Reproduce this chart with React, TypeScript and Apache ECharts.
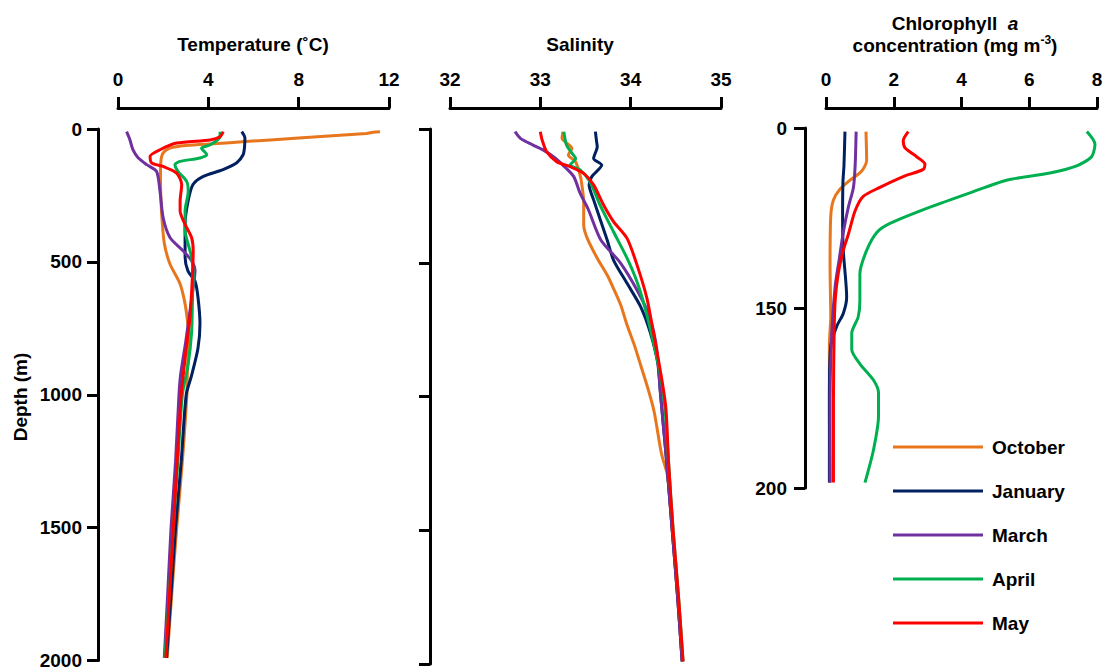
import React, { useEffect, useRef } from "react";
import * as echarts from "echarts";

const FONT = "'Liberation Sans', Arial, sans-serif";

const months = ["October", "January", "March", "April", "May"];
const monthColors = ["#E8761C", "#002060", "#7030A0", "#00B050", "#FF0000"];

// [temperature (°C), depth (m)]
const tempOctober = [[11.6,10],[11.3,12],[11.0,17],[8.0,34],[5.5,48],[4.4,55],[3.0,62],[2.3,72],[2.0,90],[1.9,120],[1.88,180],[1.9,260],[1.95,340],[2.05,430],[2.3,508],[2.75,583],[2.97,658],[3.1,740],[3.15,800],[3.08,890],[3.05,1000],[2.85,1250],[2.6,1500],[2.38,1750],[2.18,1990]];
const tempJanuary = [[5.48,10],[5.62,34],[5.6,70],[5.54,97],[5.26,127],[4.65,153],[3.76,179],[3.32,209],[3.1,273],[2.97,359],[2.97,482],[3.1,535],[3.41,572],[3.54,632],[3.63,733],[3.54,826],[3.25,930],[3.02,1000],[2.8,1250],[2.55,1500],[2.35,1750],[2.15,1990]];
const tempMarch = [[0.38,10],[0.53,41],[0.66,78],[0.89,108],[1.27,134],[1.71,160],[1.86,234],[2.0,334],[2.3,408],[2.89,459],[3.26,496],[3.41,533],[3.33,596],[3.19,683],[3.0,800],[2.78,920],[2.7,1000],[2.55,1250],[2.35,1500],[2.2,1750],[2.05,1990]];
const tempApril = [[4.52,10],[4.49,34],[4.07,60],[3.7,72],[3.93,97],[3.63,109],[2.75,122],[2.52,134],[2.66,160],[3.04,197],[3.11,234],[2.97,309],[2.97,384],[3.11,434],[3.26,483],[3.33,546],[3.3,632],[3.26,764],[3.1,889],[2.85,1000],[2.65,1250],[2.45,1500],[2.27,1750],[2.08,1990]];
const tempMay = [[4.66,10],[4.52,29],[4.07,41],[2.6,53],[1.86,78],[1.42,103],[1.49,128],[2.0,141],[2.6,166],[2.82,209],[2.75,272],[2.75,309],[2.97,359],[3.26,409],[3.33,459],[3.3,546],[3.23,658],[3.16,733],[3.11,764],[2.97,864],[2.8,1000],[2.62,1250],[2.45,1500],[2.28,1750],[2.12,1990]];

// [salinity, depth (m)]
const salOctober = [[33.25,10],[33.24,35],[33.35,72],[33.31,97],[33.39,122],[33.44,172],[33.46,209],[33.48,272],[33.48,359],[33.52,409],[33.63,483],[33.74,546],[33.81,596],[33.89,658],[33.96,733],[34.04,807],[34.11,882],[34.19,969],[34.26,1057],[34.34,1212],[34.41,1300],[34.46,1500],[34.52,1750],[34.57,1990]];
const salJanuary = [[33.61,10],[33.62,40],[33.63,66],[33.59,110],[33.68,135],[33.57,178],[33.54,209],[33.59,265],[33.74,415],[33.81,490],[33.96,577],[34.11,664],[34.22,764],[34.3,876],[34.33,988],[34.36,1100],[34.4,1250],[34.46,1500],[34.52,1750],[34.57,1990]];
const salMarch = [[32.72,10],[32.78,35],[32.92,60],[33.03,78],[33.17,110],[33.25,135],[33.37,178],[33.44,240],[33.53,300],[33.67,415],[33.89,502],[34.07,602],[34.21,702],[34.29,826],[34.33,988],[34.36,1100],[34.4,1250],[34.46,1500],[34.52,1750],[34.57,1990]];
const salApril = [[33.26,10],[33.29,60],[33.35,90],[33.39,110],[33.33,135],[33.44,153],[33.55,197],[33.66,284],[33.81,384],[33.96,483],[34.07,571],[34.16,670],[34.25,795],[34.33,920],[34.38,1044],[34.42,1250],[34.47,1500],[34.53,1750],[34.58,1990]];
const salMay = [[33.0,10],[33.02,41],[33.07,85],[33.18,122],[33.33,141],[33.48,166],[33.59,209],[33.7,284],[33.81,346],[33.96,409],[34.07,508],[34.18,633],[34.25,758],[34.33,907],[34.39,1044],[34.42,1250],[34.47,1500],[34.53,1750],[34.58,1990]];

// [chlorophyll a (mg m-3), depth (m)]
const chlOctober = [[1.18,2],[1.2,18],[1.05,24],[0.71,29],[0.41,34],[0.22,40],[0.14,49],[0.12,77],[0.14,105],[0.1,120],[0.1,160],[0.12,197]];
const chlJanuary = [[0.56,2],[0.53,21],[0.5,30],[0.49,49],[0.51,68],[0.61,94],[0.51,103],[0.32,110],[0.14,121],[0.1,151],[0.1,197]];
const chlMarch = [[0.89,2],[0.86,21],[0.81,33],[0.66,44],[0.51,58],[0.39,73],[0.27,88],[0.17,114],[0.12,151],[0.12,197]];
const chlApril = [[7.7,2],[7.94,9],[7.84,16],[7.4,21],[6.61,25],[5.33,29],[4.25,36],[3.07,44],[1.89,53],[1.5,58],[1.2,68],[1.0,81],[1.0,96],[0.95,105],[0.76,114],[0.76,123],[1.0,131],[1.4,140],[1.55,147],[1.55,160],[1.4,179],[1.15,197]];
const chlMay = [[2.43,2],[2.28,7],[2.33,11],[2.68,16],[2.92,20],[2.87,23],[2.28,27],[1.59,33],[1.1,38],[0.86,46],[0.66,59],[0.51,68],[0.36,81],[0.27,96],[0.24,114],[0.22,151],[0.22,197]];

const tempSeries = [tempOctober, tempJanuary, tempMarch, tempApril, tempMay];
const salSeries = [salOctober, salJanuary, salMarch, salApril, salMay];
const chlSeries = [chlOctober, chlJanuary, chlMarch, chlApril, chlMay];

const chlDepthLabels = ["0", "150", "200"];

export default function App() {
  const ref = useRef<HTMLDivElement>(null);

  useEffect(() => {
    if (!ref.current) return;
    const chart = echarts.init(ref.current, null, { renderer: "svg" });

    const axisLine = { show: true, onZero: false, lineStyle: { color: "#000", width: 3 } };
    const axisTick = { show: true, inside: false, length: 11, lineStyle: { color: "#000", width: 3 } };
    const labelStyle = { color: "#000", fontSize: 19, fontWeight: "bold" as const, fontFamily: FONT };
    const plain = (v: number) => String(v);

    const xAxisBase = (gridIndex: number, min: number, max: number, interval: number, offset: number) => ({
      type: "value",
      gridIndex,
      position: "top",
      offset,
      min,
      max,
      interval,
      axisLine,
      axisTick,
      splitLine: { show: false },
      axisLabel: { ...labelStyle, margin: 19, formatter: plain },
    });

    const series: any[] = [];
    const groups = [tempSeries, salSeries, chlSeries];
    groups.forEach((g, gi) => {
      g.forEach((data, mi) => {
        series.push({
          type: "line",
          name: months[mi],
          xAxisIndex: gi,
          yAxisIndex: gi,
          data,
          showSymbol: false,
          symbol: "none",
          smooth: 0.25,
          lineStyle: { color: monthColors[mi], width: 3 },
          itemStyle: { color: monthColors[mi] },
          z: 2 + mi,
        });
      });
    });

    const titleStyle = { fontSize: 19, fontWeight: "bold", fontFamily: FONT, fill: "#000" };

    chart.setOption({
      animation: false,
      backgroundColor: "#fff",
      grid: [
        { left: 118, top: 129, width: 271, height: 535 },
        { left: 450, top: 129, width: 271, height: 535 },
        { left: 826, top: 128, width: 271, height: 360 },
      ],
      xAxis: [
        xAxisBase(0, 0, 12, 4, 21),
        xAxisBase(1, 32, 35, 1, 21),
        xAxisBase(2, 0, 8, 2, 20),
      ],
      yAxis: [
        {
          type: "value", gridIndex: 0, inverse: true, min: 0, max: 2000, interval: 500, offset: 20,
          axisLine, axisTick, splitLine: { show: false },
          axisLabel: { ...labelStyle, margin: 16, formatter: plain },
        },
        {
          type: "value", gridIndex: 1, inverse: true, min: 0, max: 2000, interval: 500, offset: 20,
          axisLine, axisTick, splitLine: { show: false },
          axisLabel: { show: false },
        },
        {
          type: "value", gridIndex: 2, inverse: true, min: 0, max: 200, interval: 100, offset: 21,
          axisLine, axisTick, splitLine: { show: false },
          axisLabel: { ...labelStyle, margin: 18, formatter: (v: number) => chlDepthLabels[Math.round(v / 100)] },
        },
      ],
      legend: {
        orient: "vertical",
        left: 893,
        top: 437,
        padding: 0,
        itemWidth: 90,
        itemHeight: 3,
        itemGap: 24,
        icon: "rect",
        data: months,
        selectedMode: false,
        textStyle: { ...labelStyle, lineHeight: 20, padding: [0, 0, 0, 4] },
      },
      graphic: [
        { type: "text", x: 253, y: 44, style: { ...titleStyle, text: "Temperature (˚C)", align: "center", verticalAlign: "middle" } },
        { type: "text", x: 580, y: 44, style: { ...titleStyle, text: "Salinity", align: "center", verticalAlign: "middle" } },
        {
          type: "text", x: 955, y: 23,
          style: {
            text: "{b|Chlorophyll  }{i|a}",
            align: "center", verticalAlign: "middle",
            rich: {
              b: { fontSize: 19, fontWeight: "bold", fontFamily: FONT, fill: "#000" },
              i: { fontSize: 19, fontWeight: "bold", fontStyle: "italic", fontFamily: FONT, fill: "#000" },
            },
          },
        },
        {
          type: "text", x: 955, y: 45,
          style: {
            text: "{b|concentration (mg m}{s|-3}{b|)}",
            align: "center", verticalAlign: "middle",
            rich: {
              b: { fontSize: 19, fontWeight: "bold", fontFamily: FONT, fill: "#000", lineHeight: 22 },
              s: { fontSize: 12, fontWeight: "bold", fontFamily: FONT, fill: "#000", lineHeight: 12, verticalAlign: "top" },
            },
          },
        },
        {
          type: "text", x: 20, y: 397, rotation: Math.PI / 2,
          style: { ...titleStyle, text: "Depth (m)", align: "center", verticalAlign: "middle" },
        },
      ],
      series,
    });

    return () => chart.dispose();
  }, []);

  return (
    <div
      ref={ref}
      style={{ position: "absolute", left: 0, top: 0, width: 1106, height: 670, background: "#fff" }}
    />
  );
}
